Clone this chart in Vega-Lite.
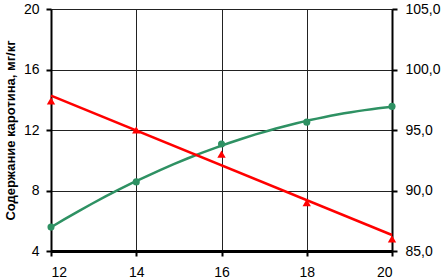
{
  "$schema": "https://vega.github.io/schema/vega-lite/v6.json",
  "width": 341,
  "height": 242,
  "autosize": "none",
  "padding": {"left": 51, "top": 9, "right": 50, "bottom": 29},
  "background": "white",
  "config": {
    "font": "Liberation Sans",
    "view": {"stroke": null},
    "axis": {
      "labelFont": "Liberation Sans",
      "labelFontSize": 14,
      "labelColor": "black",
      "domainColor": "black",
      "tickColor": "black",
      "gridColor": "#222222",
      "gridWidth": 1,
      "tickSize": 5,
      "domainWidth": 2,
      "tickWidth": 2
    }
  },
  "data": {
    "values": [
      {"x": 12, "carotene": 5.58, "value2": 97.4},
      {"x": 14, "carotene": 8.57, "value2": 95.0},
      {"x": 16, "carotene": 11.07, "value2": 93.0},
      {"x": 18, "carotene": 12.52, "value2": 89.0},
      {"x": 20, "carotene": 13.56, "value2": 86.0}
    ]
  },
  "encoding": {
    "x": {
      "field": "x",
      "type": "quantitative",
      "scale": {"domain": [12, 20], "nice": false},
      "axis": {
        "values": [12, 14, 16, 18, 20],
        "title": null,
        "grid": true,
        "labelPadding": 9,
        "domainWidth": 3
      }
    }
  },
  "layer": [
    {
      "encoding": {
        "y": {
          "field": "carotene",
          "type": "quantitative",
          "scale": {"domain": [4, 20], "nice": false, "zero": false},
          "axis": {
            "orient": "left",
            "values": [4, 8, 12, 16, 20],
            "grid": true,
            "title": "Содержание каротина, мг/кг",
            "titleFont": "Liberation Sans",
            "titleFontSize": 13,
            "titleFontWeight": "bold",
            "titleColor": "black",
            "titlePadding": 6,
            "labelPadding": 7
          }
        }
      },
      "layer": [
        {
          "transform": [{"regression": "carotene", "on": "x", "method": "poly", "order": 2}],
          "mark": {"type": "line", "color": "#2e9163", "strokeWidth": 2.5}
        },
        {
          "mark": {"type": "point", "shape": "circle", "filled": true, "color": "#2e9163", "size": 50, "opacity": 1}
        }
      ]
    },
    {
      "encoding": {
        "y": {
          "field": "value2",
          "type": "quantitative",
          "scale": {"domain": [85, 105], "nice": false, "zero": false},
          "axis": {
            "orient": "right",
            "values": [85, 90, 95, 100, 105],
            "grid": false,
            "title": null,
            "labelPadding": 8,
            "labelExpr": "replace(format(datum.value, '.1f'), '.', ',')"
          }
        }
      },
      "layer": [
        {
          "transform": [{"regression": "value2", "on": "x", "method": "linear"}],
          "mark": {"type": "line", "color": "#ff0000", "strokeWidth": 2.5}
        },
        {
          "mark": {"type": "point", "shape": "triangle-up", "filled": true, "color": "#ff0000", "size": 70, "opacity": 1}
        }
      ]
    }
  ],
  "resolve": {"scale": {"y": "independent"}}
}
